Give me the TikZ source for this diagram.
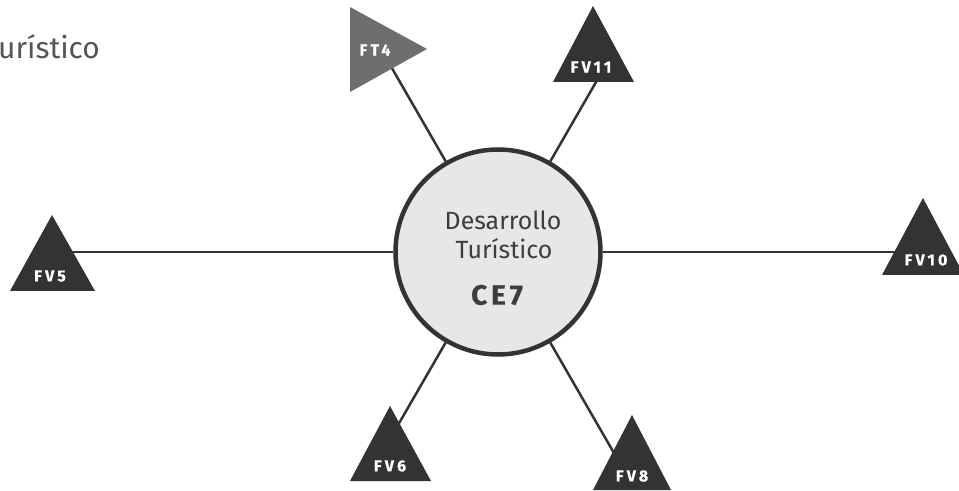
\documentclass[tikz,border=0pt]{standalone}
\usepackage{fontspec}
\setmainfont{Fira Sans}
\newfontfamily\lblfont[LetterSpace=20,BoldFeatures={FakeBold=0.6}]{Fira Sans}
\newfontfamily\cefont[LetterSpace=14,BoldFeatures={FakeBold=0.6}]{Fira Sans}
\definecolor{dark}{HTML}{333333}
\definecolor{ftgray}{HTML}{6D6E70}
\definecolor{circfill}{HTML}{E6E7E8}
\definecolor{txt}{HTML}{3D3D3D}
\definecolor{titlegray}{HTML}{555555}
\tikzset{
  conn/.style={draw=dark, line width=2.5bp},
  tri/.style={fill=dark},
  trigray/.style={fill=ftgray},
  tlabel/.style={text=white, font=\lblfont\bfseries\fontsize{16}{16}\selectfont, inner sep=0pt},
  ctext/.style={text=txt, font=\fontsize{25}{25}\selectfont, inner sep=0pt},
}
\begin{document}
\begin{tikzpicture}[x=1bp, y=-1bp]
\useasboundingbox (0,0) rectangle (959,491);
% central circle
\node[circle, draw=dark, line width=4.5bp, fill=circfill, minimum size=205bp, inner sep=0pt] (c) at (498,252) {};
% connector end points (inside the triangles)
\coordinate (eft4)  at (385.5,57);
\coordinate (efv11) at (610.5,57);
\coordinate (efv5)  at (70,252);
\coordinate (efv10) at (925,252);
\coordinate (efv6)  at (390.5,438);
\coordinate (efv8)  at (618,460);
\draw[conn] (c) -- (eft4);
\draw[conn] (c) -- (efv11);
\draw[conn] (c) -- (efv5);
\draw[conn] (c) -- (efv10);
\draw[conn] (c) -- (efv6);
\draw[conn] (c) -- (efv8);
% triangles
\fill[trigray] (350,7) -- (350,92) -- (427,49) -- cycle;
\fill[tri] (593,6) -- (634,82) -- (553,82) -- cycle;
\fill[tri] (52,215) -- (95,291) -- (10,291) -- cycle;
\fill[tri] (923,198) -- (964,275) -- (882,275) -- cycle;
\fill[tri] (390,406) -- (431,481) -- (350,481) -- cycle;
\fill[tri] (632,415) -- (671,490) -- (593,490) -- cycle;
% triangle labels
\node[tlabel] (lft4)  at (375,50)  {FT4};
\node[tlabel] (lfv11) at (591,67)  {FV11};
\node[tlabel] (lfv5)  at (50,276)  {FV5};
\node[tlabel] (lfv10) at (926,260) {FV10};
\node[tlabel] (lfv6)  at (390,466) {FV6};
\node[tlabel] (lfv8)  at (632,476) {FV8};
% circle text
\node[ctext] (t1) at (503,220) {Desarrollo};
\node[ctext] (t2) at (504,249) {Turístico};
\node[text=txt, font=\cefont\bfseries\fontsize{28}{28}\selectfont, inner sep=0pt] (t3) at (497,295) {CE7};
% cut title
\node[text=titlegray, font=\fontsize{30}{30}\selectfont, inner sep=0pt, anchor=west] (title) at (-2,47) {urístico};
\end{tikzpicture}
\end{document}
